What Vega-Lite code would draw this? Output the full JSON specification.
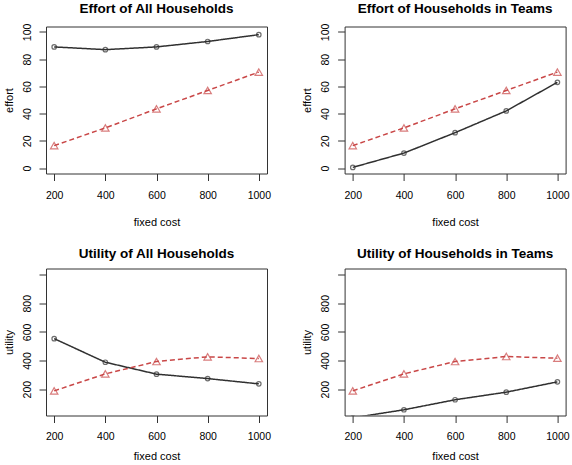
{
  "$schema": "https://vega.github.io/schema/vega-lite/v6.json",
  "background": "white",
  "padding": {"left": 2, "top": 0.5, "right": 0, "bottom": 0},
  "columns": 2,
  "spacing": {"row": 95, "column": 77.6},
  "bounds": "flush",
  "data": {
    "values": [
      {"panel": "effort_all", "series": "base", "cost": 200, "value": 89},
      {"panel": "effort_all", "series": "base", "cost": 400, "value": 87},
      {"panel": "effort_all", "series": "base", "cost": 600, "value": 89},
      {"panel": "effort_all", "series": "base", "cost": 800, "value": 93},
      {"panel": "effort_all", "series": "base", "cost": 1000, "value": 98},
      {"panel": "effort_all", "series": "red", "cost": 200, "value": 16.5},
      {"panel": "effort_all", "series": "red", "cost": 400, "value": 29.5},
      {"panel": "effort_all", "series": "red", "cost": 600, "value": 43.5},
      {"panel": "effort_all", "series": "red", "cost": 800, "value": 57},
      {"panel": "effort_all", "series": "red", "cost": 1000, "value": 70.5},
      {"panel": "effort_teams", "series": "base", "cost": 200, "value": 0.5},
      {"panel": "effort_teams", "series": "base", "cost": 400, "value": 11},
      {"panel": "effort_teams", "series": "base", "cost": 600, "value": 26},
      {"panel": "effort_teams", "series": "base", "cost": 800, "value": 42},
      {"panel": "effort_teams", "series": "base", "cost": 1000, "value": 63},
      {"panel": "effort_teams", "series": "red", "cost": 200, "value": 16.5},
      {"panel": "effort_teams", "series": "red", "cost": 400, "value": 29.5},
      {"panel": "effort_teams", "series": "red", "cost": 600, "value": 43.5},
      {"panel": "effort_teams", "series": "red", "cost": 800, "value": 57},
      {"panel": "effort_teams", "series": "red", "cost": 1000, "value": 70.5},
      {"panel": "utility_all", "series": "base", "cost": 200, "value": 553},
      {"panel": "utility_all", "series": "base", "cost": 400, "value": 388},
      {"panel": "utility_all", "series": "base", "cost": 600, "value": 305},
      {"panel": "utility_all", "series": "base", "cost": 800, "value": 274},
      {"panel": "utility_all", "series": "base", "cost": 1000, "value": 237},
      {"panel": "utility_all", "series": "red", "cost": 200, "value": 188},
      {"panel": "utility_all", "series": "red", "cost": 400, "value": 307},
      {"panel": "utility_all", "series": "red", "cost": 600, "value": 393},
      {"panel": "utility_all", "series": "red", "cost": 800, "value": 426},
      {"panel": "utility_all", "series": "red", "cost": 1000, "value": 414},
      {"panel": "utility_teams", "series": "base", "cost": 200, "value": 0},
      {"panel": "utility_teams", "series": "base", "cost": 400, "value": 56},
      {"panel": "utility_teams", "series": "base", "cost": 600, "value": 126},
      {"panel": "utility_teams", "series": "base", "cost": 800, "value": 179},
      {"panel": "utility_teams", "series": "base", "cost": 1000, "value": 251},
      {"panel": "utility_teams", "series": "red", "cost": 200, "value": 188},
      {"panel": "utility_teams", "series": "red", "cost": 400, "value": 307},
      {"panel": "utility_teams", "series": "red", "cost": 600, "value": 393},
      {"panel": "utility_teams", "series": "red", "cost": 800, "value": 428},
      {"panel": "utility_teams", "series": "red", "cost": 1000, "value": 416}
    ]
  },
  "concat": [
    {
      "width": 221, "height": 147,
      "title": "Effort of All Households",
      "transform": [{"filter": "datum.panel === 'effort_all'"}],
      "encoding": {
        "x": {"field": "cost", "type": "quantitative", "scale": {"domain": [168, 1032], "nice": false, "zero": false}, "axis": {"values": [200, 400, 600, 800, 1000], "format": "d", "title": "fixed cost"}},
        "y": {"field": "value", "type": "quantitative", "scale": {"domain": [-4, 104], "nice": false, "zero": false}, "axis": {"values": [0, 20, 40, 60, 80, 100], "title": "effort"}},
        "color": {"field": "series", "type": "nominal", "scale": {"domain": ["base", "red"], "range": ["#303030", "#c94747"]}, "legend": null}
      },
      "layer": [
        {"mark": {"type": "line", "clip": true, "strokeWidth": 1.5}, "encoding": {"strokeDash": {"field": "series", "type": "nominal", "scale": {"domain": ["base", "red"], "range": [[1, 0], [5, 3]]}, "legend": null}}},
        {"mark": {"type": "point", "clip": true, "filled": false, "strokeWidth": 1.2}, "encoding": {"shape": {"field": "series", "type": "nominal", "scale": {"domain": ["base", "red"], "range": ["circle", "triangle-up"]}, "legend": null}, "size": {"field": "series", "type": "nominal", "scale": {"domain": ["base", "red"], "range": [20, 55]}, "legend": null}}}
      ]
    },
    {
      "width": 221, "height": 147,
      "title": "Effort of Households in Teams",
      "transform": [{"filter": "datum.panel === 'effort_teams'"}],
      "encoding": {
        "x": {"field": "cost", "type": "quantitative", "scale": {"domain": [168, 1032], "nice": false, "zero": false}, "axis": {"values": [200, 400, 600, 800, 1000], "format": "d", "title": "fixed cost"}},
        "y": {"field": "value", "type": "quantitative", "scale": {"domain": [-4, 104], "nice": false, "zero": false}, "axis": {"values": [0, 20, 40, 60, 80, 100], "title": "effort"}},
        "color": {"field": "series", "type": "nominal", "scale": {"domain": ["base", "red"], "range": ["#303030", "#c94747"]}, "legend": null}
      },
      "layer": [
        {"mark": {"type": "line", "clip": true, "strokeWidth": 1.5}, "encoding": {"strokeDash": {"field": "series", "type": "nominal", "scale": {"domain": ["base", "red"], "range": [[1, 0], [5, 3]]}, "legend": null}}},
        {"mark": {"type": "point", "clip": true, "filled": false, "strokeWidth": 1.2}, "encoding": {"shape": {"field": "series", "type": "nominal", "scale": {"domain": ["base", "red"], "range": ["circle", "triangle-up"]}, "legend": null}, "size": {"field": "series", "type": "nominal", "scale": {"domain": ["base", "red"], "range": [20, 55]}, "legend": null}}}
      ]
    },
    {
      "width": 221, "height": 147,
      "title": "Utility of All Households",
      "transform": [{"filter": "datum.panel === 'utility_all'"}],
      "encoding": {
        "x": {"field": "cost", "type": "quantitative", "scale": {"domain": [168, 1032], "nice": false, "zero": false}, "axis": {"values": [200, 400, 600, 800, 1000], "format": "d", "title": "fixed cost", "labelPadding": 8.5, "titlePadding": 9}},
        "y": {"field": "value", "type": "quantitative", "scale": {"domain": [16, 1043], "nice": false, "zero": false}, "axis": {"values": [200, 400, 600, 800, 1000], "labelExpr": "datum.value == 1000 ? '' : datum.label", "title": "utility"}},
        "color": {"field": "series", "type": "nominal", "scale": {"domain": ["base", "red"], "range": ["#303030", "#c94747"]}, "legend": null}
      },
      "layer": [
        {"mark": {"type": "line", "clip": true, "strokeWidth": 1.5}, "encoding": {"strokeDash": {"field": "series", "type": "nominal", "scale": {"domain": ["base", "red"], "range": [[1, 0], [5, 3]]}, "legend": null}}},
        {"mark": {"type": "point", "clip": true, "filled": false, "strokeWidth": 1.2}, "encoding": {"shape": {"field": "series", "type": "nominal", "scale": {"domain": ["base", "red"], "range": ["circle", "triangle-up"]}, "legend": null}, "size": {"field": "series", "type": "nominal", "scale": {"domain": ["base", "red"], "range": [20, 55]}, "legend": null}}}
      ]
    },
    {
      "width": 221, "height": 147,
      "title": "Utility of Households in Teams",
      "transform": [{"filter": "datum.panel === 'utility_teams'"}],
      "encoding": {
        "x": {"field": "cost", "type": "quantitative", "scale": {"domain": [168, 1032], "nice": false, "zero": false}, "axis": {"values": [200, 400, 600, 800, 1000], "format": "d", "title": "fixed cost", "labelPadding": 8.5, "titlePadding": 9}},
        "y": {"field": "value", "type": "quantitative", "scale": {"domain": [16, 1043], "nice": false, "zero": false}, "axis": {"values": [200, 400, 600, 800, 1000], "labelExpr": "datum.value == 1000 ? '' : datum.label", "title": "utility"}},
        "color": {"field": "series", "type": "nominal", "scale": {"domain": ["base", "red"], "range": ["#303030", "#c94747"]}, "legend": null}
      },
      "layer": [
        {"mark": {"type": "line", "clip": true, "strokeWidth": 1.5}, "encoding": {"strokeDash": {"field": "series", "type": "nominal", "scale": {"domain": ["base", "red"], "range": [[1, 0], [5, 3]]}, "legend": null}}},
        {"mark": {"type": "point", "clip": true, "filled": false, "strokeWidth": 1.2}, "encoding": {"shape": {"field": "series", "type": "nominal", "scale": {"domain": ["base", "red"], "range": ["circle", "triangle-up"]}, "legend": null}, "size": {"field": "series", "type": "nominal", "scale": {"domain": ["base", "red"], "range": [20, 55]}, "legend": null}}}
      ]
    }
  ],
  "config": {
    "font": "Liberation Sans",
    "view": {"stroke": "#333333", "strokeWidth": 1},
    "axis": {"grid": false, "domain": false, "tickColor": "#333333", "tickSize": 7, "tickWidth": 1, "labelFont": "Liberation Sans", "labelFontSize": 10.5, "labelColor": "#000000", "titleFont": "Liberation Sans", "titleFontSize": 11, "titleFontWeight": "normal", "titleColor": "#000000"},
    "axisX": {"labelPadding": 10, "titlePadding": 15, "labelAngle": 0},
    "axisY": {"labelAngle": 270, "labelAlign": "center", "labelBaseline": "alphabetic", "labelPadding": 9, "titlePadding": 8},
    "title": {"font": "Liberation Sans", "fontSize": 13.5, "fontWeight": "bold", "color": "#000000", "offset": 8}
  }
}
